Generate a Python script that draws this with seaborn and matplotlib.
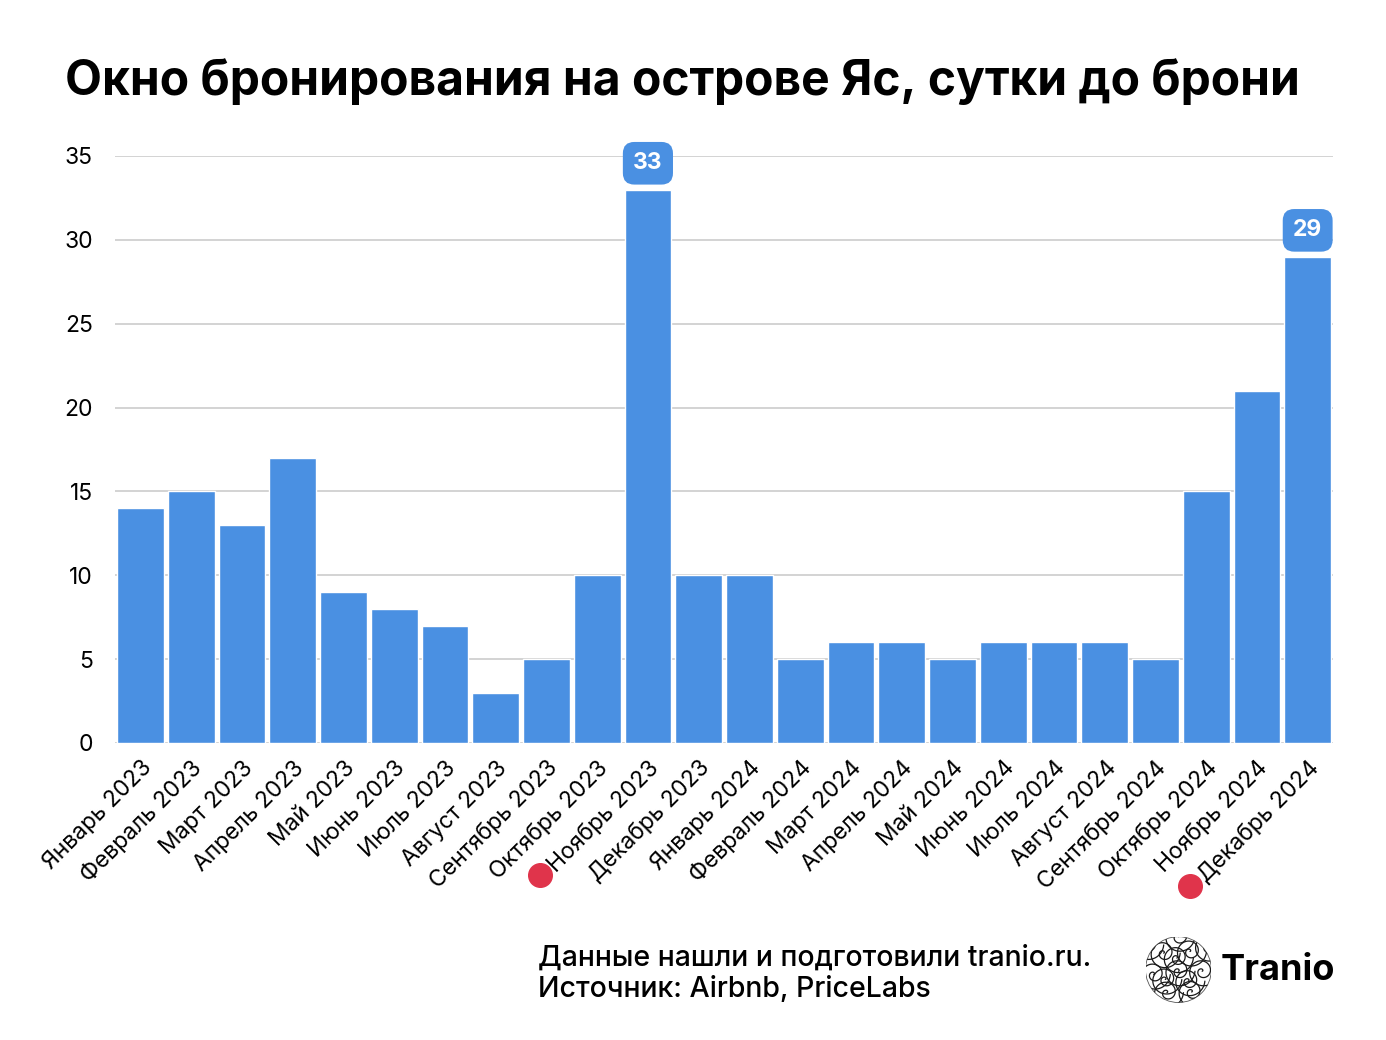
import numpy as np
import seaborn as sns
import matplotlib.pyplot as plt
from matplotlib.patches import Circle

months = ["Январь 2023", "Февраль 2023", "Март 2023", "Апрель 2023", "Май 2023",
          "Июнь 2023", "Июль 2023", "Август 2023", "Сентябрь 2023", "Октябрь 2023",
          "Ноябрь 2023", "Декабрь 2023", "Январь 2024", "Февраль 2024", "Март 2024",
          "Апрель 2024", "Май 2024", "Июнь 2024", "Июль 2024", "Август 2024",
          "Сентябрь 2024", "Октябрь 2024", "Ноябрь 2024", "Декабрь 2024"]
days = [14, 15, 13, 17, 9, 8, 7, 3, 5, 10, 33, 10, 10, 5, 6, 6, 5, 6, 6, 6, 5, 15, 21, 29]
highlight = ["Ноябрь 2023", "Декабрь 2024"]
y_ticks = [0, 5, 10, 15, 20, 25, 30, 35]

BLUE = "#4A90E2"
RED = "#E0344B"

sns.set_style("white")
plt.rcParams["font.family"] = ["Inter", "DejaVu Sans"]
plt.rcParams["text.color"] = "black"
plt.rcParams["xtick.color"] = "black"
plt.rcParams["ytick.color"] = "black"

fig = plt.figure(figsize=(13.86, 10.40), dpi=100)
ax = fig.add_axes([0.083, 0.2856, 0.8788, 0.5644])

sns.barplot(x=months, y=days, color=BLUE, saturation=1, width=0.92, ax=ax, zorder=3)
ax.set_ylim(0, 35)
ax.set_yticks(y_ticks)
ax.yaxis.grid(True, color="#cccccc", linewidth=1.2, zorder=0)
ax.set_axisbelow(True)
sns.despine(ax=ax, left=True, bottom=True)
ax.tick_params(axis="both", length=0, labelsize=16.5, labelcolor="black")
ax.tick_params(axis="y", pad=16)
ax.tick_params(axis="x", pad=10)
ax.set_xlabel("")
ax.set_ylabel("")
plt.setp(ax.get_xticklabels(), rotation=45, ha="right", rotation_mode="anchor")
ax.set_xlim(-0.5, len(months) - 0.5)

# value badges for highlighted months
for m in highlight:
    i = months.index(m)
    ax.annotate(str(days[i]), xy=(i, days[i]), xytext=(0, 11), textcoords="offset points",
                ha="center", va="bottom", color="white", fontsize=16.5, fontweight="bold",
                annotation_clip=False,
                bbox=dict(boxstyle="round,pad=0.45,rounding_size=0.5", fc=BLUE, ec="none"))

fig.text(0.047, 0.922, "Окно бронирования на острове Яс, сутки до брони",
         fontsize=34.5, fontweight="bold", va="center", ha="left", color="black")

fig.text(0.388, 0.064, "Данные нашли и подготовили tranio.ru.\nИсточник: Airbnb, PriceLabs",
         fontsize=20.5, fontweight="medium", va="center", ha="left", linespacing=1.2,
         color="black")

# logo
lax = fig.add_axes([0.8265, 0.036, 0.0475, 0.0634])
lax.set_xlim(-1, 1)
lax.set_ylim(-1, 1)
lax.set_aspect("equal")
lax.axis("off")
clip = Circle((0, 0), 1, transform=lax.transData, fc="none", ec="none")
lax.add_patch(clip)
t = np.linspace(0, 4 * np.pi, 200)
for cx, cy in [(-0.45, 0.5), (0.35, 0.55), (-0.75, -0.15), (0.0, -0.05), (0.72, -0.05),
               (-0.35, -0.7), (0.4, -0.68), (0.9, 0.7), (-0.95, 0.75), (0.0, 1.0),
               (-0.05, 0.35), (0.3, -0.35), (-0.4, -0.3)]:
    r = 0.04 * t
    line, = lax.plot(cx + r * np.cos(t), cy + r * np.sin(t), color="#1a1a1a", lw=0.9)
    line.set_clip_path(clip)
lax.add_patch(Circle((0, 0), 1, fc="none", ec="#555555", lw=0.6))
fig.text(0.881, 0.067, "Tranio", fontsize=26, fontweight="bold", va="center", ha="left",
         color="black")

# red dots in front of highlighted labels
fig.canvas.draw()
renderer = fig.canvas.get_renderer()
for lab in ax.get_xticklabels():
    if lab.get_text() in highlight:
        bb = lab.get_window_extent(renderer)
        fx, fy = fig.transFigure.inverted().transform((bb.x0 - 4, bb.y0 + 1))
        fig.add_artist(plt.Line2D([fx], [fy], marker="o", markersize=17, color=RED,
                                  transform=fig.transFigure))

fig.savefig("out.png", dpi=100)
